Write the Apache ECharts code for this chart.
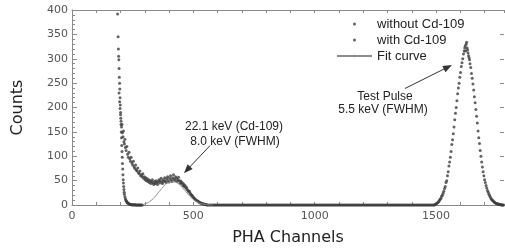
<!DOCTYPE html>
<html>
<head>
<meta charset="utf-8">
<script src="https://cdn.jsdelivr.net/npm/echarts@6/dist/echarts.min.js"></script>
<style>
  html, body { margin: 0; padding: 0; background: #fff; }
  #chart { width: 505px; height: 251px; }
</style>
</head>
<body>
<div id="chart"></div>
<script>
// [channel, counts]
const withoutSpike = [
  [188,392],[190,345],[191,320],[192,305],[193,298],[194,280],[195,262],[196,250],[197,238],[198,220],
  [199,205],[200,190],[201,178],[202,165],[203,150],[204,138],[205,122],[206,110],[207,98],[208,85],
  [209,74],[210,62],[211,52],[212,45],[213,38],[214,32],[215,26],[216,22],[218,17],[220,13],
  [222,10],[224,8],[226,6],[228,5],[230,4],[232,3],[235,2],[238,2],[241,1],[244,1],
  [247,0],[250,1],[253,0],[256,0],[259,1],[262,0],[265,0],[268,0],[271,0],[274,0],
  [277,0],[280,0],[283,0],[286,0],[290,0]
];
const withoutBase = [
  [570,0],[580,0],[590,0],[600,0],[610,0],[620,0],[630,0],[640,0],[650,0],[660,0],
  [670,0],[680,0],[690,0],[700,0],[710,0],[720,0],[730,0],[740,0],[750,0],[760,0],
  [770,0],[780,0],[790,0],[800,0],[810,0],[820,0],[830,0],[840,0],[850,0],[860,0],
  [870,0],[880,0],[890,0],[900,0],[910,0],[920,0],[930,0],[940,0],[950,0],[960,0],
  [970,0],[980,0],[990,0],[1000,0],[1010,0],[1020,0],[1030,0],[1040,0],[1050,0],[1060,0],
  [1070,0],[1080,0],[1090,0],[1100,0],[1110,0],[1120,0],[1130,0],[1140,0],[1150,0],[1160,0],
  [1170,0],[1180,0],[1190,0],[1200,0],[1210,0],[1220,0],[1230,0],[1240,0],[1250,0],[1260,0],
  [1270,0],[1280,0],[1290,0],[1300,0],[1310,0],[1320,0],[1330,0],[1340,0],[1350,0],[1360,0],
  [1370,0],[1380,0],[1390,0],[1400,0],[1410,0],[1420,0],[1430,0],[1440,0],[1450,0],[1460,0],
  [1470,0],[1480,0]
];
const withoutPulse = [
  [1490,0],[1496,1],[1502,3],[1508,5],[1514,9],[1520,14],[1526,20],[1532,28],[1538,38],[1544,50],
  [1550,68],[1556,88],[1562,110],[1568,134],[1574,160],[1580,188],[1586,214],[1592,240],[1598,262],[1604,284],
  [1610,300],[1616,316],[1620,326],[1624,330],[1628,322],[1632,312],[1636,302],[1640,290],[1646,270],[1652,248],
  [1658,222],[1664,196],[1670,168],[1676,138],[1682,112],[1688,88],[1694,68],[1700,52],[1706,40],[1712,30],
  [1718,22],[1724,16],[1730,11],[1736,8],[1742,5],[1748,3],[1754,2],[1760,1],[1766,1],[1772,0],[1778,0]
];
const withCdTail = [
  [194,230],[196,212],[198,198],[200,185],[202,172],[204,160],[206,165],[208,148],[210,140],[212,152],
  [214,130],[216,125],[218,135],[220,118],[223,112],[226,120],[229,104],[232,98],[235,108],[238,95],
  [241,90],[244,98],[247,86],[250,82],[253,90],[256,78],[259,75],[262,82],[265,72],[268,70],
  [271,76],[274,66],[277,64],[280,70],[283,60],[286,62],[289,58],[292,64],[295,55],[298,58],
  [301,52],[304,56],[307,50],[310,54],[313,48],[316,52],[319,46],[322,50],[325,44],[328,48]
];
const withCdPeak = [
  [331,52],[334,45],[337,42],[340,48],[343,44],[346,50],[349,46],[352,42],[355,48],[358,52],
  [361,45],[364,50],[367,55],[370,47],[373,44],[376,52],[379,48],[382,56],[385,50],[388,46],
  [391,54],[394,58],[397,50],[400,47],[403,55],[406,60],[409,52],[412,48],[415,56],[418,62],
  [421,53],[424,50],[427,58],[430,55],[433,48],[436,52],[439,57],[442,50],[445,45],[448,49],
  [451,44],[454,46],[457,40],[460,43],[463,38],[466,40],[469,35],[472,36],[475,32],[478,30],
  [481,27],[484,28],[487,24],[490,22],[493,20],[496,19],[499,16],[502,15],[505,13],[508,12],
  [511,10],[514,9],[517,8],[520,7],[523,6],[526,5],[529,4],[532,4],[535,3],[538,3],
  [541,2],[544,2],[547,1],[550,1],[553,1],[556,0],[559,0]
];
const withBase = [
  [565,0],[575,0],[585,0],[595,0],[605,0],[615,0],[625,0],[635,0],[645,0],[655,0],
  [665,0],[675,0],[685,0],[695,0],[705,0],[715,0],[725,0],[735,0],[745,0],[755,0],
  [765,0],[775,0],[785,0],[795,0],[805,0],[815,0],[825,0],[835,0],[845,0],[855,0],
  [865,0],[875,0],[885,0],[895,0],[905,0],[915,0],[925,0],[935,0],[945,0],[955,0],
  [965,0],[975,0],[985,0],[995,0],[1005,0],[1015,0],[1025,0],[1035,0],[1045,0],[1055,0],
  [1065,0],[1075,0],[1085,0],[1095,0],[1105,0],[1115,0],[1125,0],[1135,0],[1145,0],[1155,0],
  [1165,0],[1175,0],[1185,0],[1195,0],[1205,0],[1215,0],[1225,0],[1235,0],[1245,0],[1255,0],
  [1265,0],[1275,0],[1285,0],[1295,0],[1305,0],[1315,0],[1325,0],[1335,0],[1345,0],[1355,0],
  [1365,0],[1375,0],[1385,0],[1395,0],[1405,0],[1415,0],[1425,0],[1435,0],[1445,0],[1455,0],
  [1465,0],[1475,0],[1485,0]
];
const withPulse = [
  [1493,0],[1499,2],[1505,4],[1511,7],[1517,12],[1523,18],[1529,24],[1535,34],[1541,46],[1547,60],
  [1553,80],[1559,98],[1565,124],[1571,146],[1577,175],[1583,200],[1589,228],[1595,250],[1601,272],[1607,292],
  [1613,310],[1618,322],[1622,316],[1626,334],[1630,318],[1634,306],[1638,298],[1643,282],[1649,260],[1655,236],
  [1661,210],[1667,182],[1673,152],[1679,126],[1685,100],[1691,78],[1697,60],[1703,46],[1709,35],[1715,26],
  [1721,19],[1727,13],[1733,9],[1739,6],[1745,4],[1751,3],[1757,2],[1763,1],[1769,0],[1775,0]
];
const fitCurve = [
  [290,0],[300,2],[310,4],[320,7],[330,11],[340,16],[350,22],[360,28],[370,34],[380,40],
  [390,44],[400,47],[410,48],[420,48],[430,46],[440,43],[450,38],[460,33],[470,27],[480,21],
  [490,16],[500,11],[510,8],[520,5],[530,3],[540,2],[550,1],[560,0],[570,0],[580,0]
];
const xMax = 1780;
const yMax = 400;
const xLabels = [0, 500, 1000, 1500];
// arrows: [tail, head] in data coords
const cdArrow = [[569, 122], [474, 72]];
const pulseArrow = [[1372, 239], [1549, 283]];

const axisGray = '#8a8a8a';
const tickFont = { fontFamily: 'DejaVu Sans', fontSize: 11, color: '#555' };
const dotColor = '#3c3c3c';
const noteStyle = { fontFamily: 'Liberation Sans', fontSize: 12, fill: '#222', align: 'center', verticalAlign: 'middle' };

const chart = echarts.init(document.getElementById('chart'));
chart.setOption({
  animation: false,
  grid: { left: 72, top: 10, width: 432, height: 199 },
  xAxis: [{
    type: 'value', min: 0, max: xMax, interval: 100,
    name: 'PHA Channels', nameLocation: 'middle', nameGap: 25,
    nameTextStyle: { fontFamily: 'DejaVu Sans', fontSize: 16, color: '#222' },
    axisLine: { onZero: false, lineStyle: { color: axisGray } },
    axisTick: { inside: true, length: 3, lineStyle: { color: axisGray } },
    axisLabel: Object.assign({ interval: 0, showMaxLabel: false, margin: 6,
      formatter: v => xLabels.includes(v) ? String(v) : '' }, tickFont),
    splitLine: { show: false }
  }, {
    type: 'value', position: 'top', min: 0, max: xMax, interval: 100,
    axisLine: { show: true, onZero: false, lineStyle: { color: axisGray } },
    axisTick: { inside: true, length: 3, lineStyle: { color: axisGray } },
    axisLabel: { show: false }, splitLine: { show: false }
  }],
  yAxis: [{
    type: 'value', min: 0, max: yMax, interval: 50,
    name: 'Counts', nameLocation: 'middle', nameGap: 46,
    nameTextStyle: { fontFamily: 'DejaVu Sans', fontSize: 16, color: '#222' },
    axisLine: { show: true, onZero: false, lineStyle: { color: axisGray } },
    axisTick: { inside: true, length: 5, lineStyle: { color: axisGray } },
    minorTick: { show: true, splitNumber: 5, length: 3, lineStyle: { color: axisGray } },
    axisLabel: Object.assign({ margin: 4 }, tickFont),
    splitLine: { show: false }
  }, {
    type: 'value', position: 'right', min: 0, max: yMax, interval: 50,
    axisLine: { show: false, onZero: false },
    axisTick: { show: true, inside: true, length: 4, lineStyle: { color: axisGray } },
    axisLabel: { show: false }, splitLine: { show: false }
  }],
  legend: {
    orient: 'vertical', left: 331, top: 12,
    itemWidth: 35, itemHeight: 3, itemGap: 2,
    textStyle: { fontFamily: 'Liberation Sans', fontSize: 13, color: '#222', lineHeight: 14 },
    data: [
      { name: 'without Cd-109', icon: 'circle' },
      { name: 'with Cd-109', icon: 'circle' },
      { name: 'Fit curve' }
    ]
  },
  graphic: [
    { type: 'text', x: 234, y: 127, style: Object.assign({ text: '22.1 keV (Cd-109)' }, noteStyle) },
    { type: 'text', x: 235, y: 142, style: Object.assign({ text: '8.0 keV (FWHM)' }, noteStyle) },
    { type: 'text', x: 385, y: 97, style: Object.assign({ text: 'Test Pulse' }, noteStyle) },
    { type: 'text', x: 383, y: 110, style: Object.assign({ text: '5.5 keV (FWHM)' }, noteStyle) }
  ],
  series: [
    {
      name: 'without Cd-109', type: 'scatter', symbolSize: 3,
      itemStyle: { color: dotColor },
      data: withoutSpike.concat(withoutBase, withoutPulse)
    },
    {
      name: 'with Cd-109', type: 'scatter', symbolSize: 3,
      itemStyle: { color: dotColor },
      data: withCdTail.concat(withCdPeak, withBase, withPulse)
    },
    {
      name: 'Fit curve', type: 'line', showSymbol: false, symbol: 'none', smooth: true,
      lineStyle: { color: '#8c8c8c', width: 1 },
      itemStyle: { color: '#8c8c8c' },
      data: fitCurve,
      markLine: {
        silent: true, symbol: ['none', 'triangle'], symbolSize: [7, 9],
        label: { show: false },
        lineStyle: { color: '#333', width: 1, type: 'solid' },
        data: [
          [{ coord: cdArrow[0] }, { coord: cdArrow[1] }],
          [{ coord: pulseArrow[0] }, { coord: pulseArrow[1] }]
        ]
      }
    }
  ]
});
</script>
</body>
</html>
